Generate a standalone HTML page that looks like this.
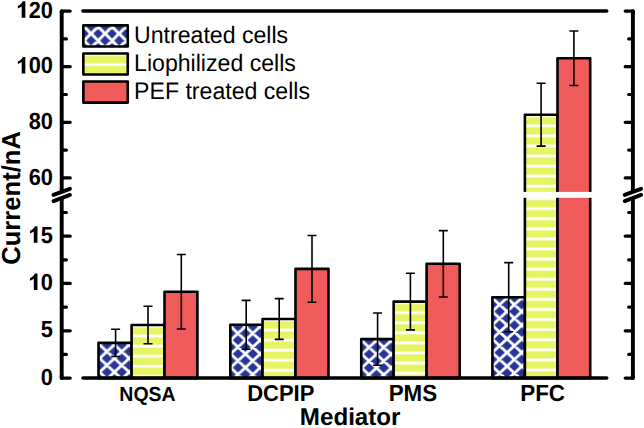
<!DOCTYPE html><html><head><meta charset="utf-8"><style>html,body{margin:0;padding:0;background:#fff;width:644px;height:428px;overflow:hidden}svg{display:block}text{font-family:"Liberation Sans",sans-serif;text-rendering:geometricPrecision}</style></head><body><svg width="644" height="428" viewBox="0 0 644 428"><defs><pattern id="h0" patternUnits="userSpaceOnUse" x="99.60" y="344.70" width="14.8" height="13.7"><rect width="14.8" height="13.7" fill="#283496"/><path d="M-29.600,-13.700L14.800,27.400M0.000,-13.700L-44.400,27.400M-14.800,-13.700L29.600,27.400M14.800,-13.700L-29.600,27.400M0.000,-13.700L44.400,27.400M29.600,-13.700L-14.800,27.400" stroke="#fff" stroke-width="2.8"/></pattern><pattern id="s0" patternUnits="userSpaceOnUse" x="0" y="336.10" width="10" height="10.08"><rect width="10" height="10.08" fill="#E6F462"/><rect y="-1.40" width="10" height="2.8" fill="#fff"/><rect y="8.68" width="10" height="2.8" fill="#fff"/></pattern><pattern id="h1" patternUnits="userSpaceOnUse" x="230.60" y="326.50" width="14.8" height="13.7"><rect width="14.8" height="13.7" fill="#283496"/><path d="M-29.600,-13.700L14.800,27.400M0.000,-13.700L-44.400,27.400M-14.800,-13.700L29.600,27.400M14.800,-13.700L-29.600,27.400M0.000,-13.700L44.400,27.400M29.600,-13.700L-14.800,27.400" stroke="#fff" stroke-width="2.8"/></pattern><pattern id="s1" patternUnits="userSpaceOnUse" x="0" y="330.10" width="10" height="10.08"><rect width="10" height="10.08" fill="#E6F462"/><rect y="-1.40" width="10" height="2.8" fill="#fff"/><rect y="8.68" width="10" height="2.8" fill="#fff"/></pattern><pattern id="h2" patternUnits="userSpaceOnUse" x="361.65" y="340.50" width="14.8" height="13.7"><rect width="14.8" height="13.7" fill="#283496"/><path d="M-29.600,-13.700L14.800,27.400M0.000,-13.700L-44.400,27.400M-14.800,-13.700L29.600,27.400M14.800,-13.700L-29.600,27.400M0.000,-13.700L44.400,27.400M29.600,-13.700L-14.800,27.400" stroke="#fff" stroke-width="2.8"/></pattern><pattern id="s2" patternUnits="userSpaceOnUse" x="0" y="312.70" width="10" height="10.08"><rect width="10" height="10.08" fill="#E6F462"/><rect y="-1.40" width="10" height="2.8" fill="#fff"/><rect y="8.68" width="10" height="2.8" fill="#fff"/></pattern><pattern id="h3" patternUnits="userSpaceOnUse" x="492.20" y="297.80" width="14.8" height="13.7"><rect width="14.8" height="13.7" fill="#283496"/><path d="M-29.600,-13.700L14.800,27.400M0.000,-13.700L-44.400,27.400M-14.800,-13.700L29.600,27.400M14.800,-13.700L-29.600,27.400M0.000,-13.700L44.400,27.400M29.600,-13.700L-14.800,27.400" stroke="#fff" stroke-width="2.8"/></pattern><pattern id="s3" patternUnits="userSpaceOnUse" x="0" y="125.80" width="10" height="10.08"><rect width="10" height="10.08" fill="#E6F462"/><rect y="-1.40" width="10" height="2.8" fill="#fff"/><rect y="8.68" width="10" height="2.8" fill="#fff"/></pattern><pattern id="s3b" patternUnits="userSpaceOnUse" x="0" y="208.70" width="10" height="10.08"><rect width="10" height="10.08" fill="#E6F462"/><rect y="-1.40" width="10" height="2.8" fill="#fff"/><rect y="8.68" width="10" height="2.8" fill="#fff"/></pattern><pattern id="hl" patternUnits="userSpaceOnUse" x="91.10" y="33.60" width="14.0" height="14.0"><rect width="14.0" height="14.0" fill="#283496"/><path d="M-28.000,-14.000L14.000,28.000M0.000,-14.000L-42.000,28.000M-14.000,-14.000L28.000,28.000M14.000,-14.000L-28.000,28.000M0.000,-14.000L42.000,28.000M28.000,-14.000L-14.000,28.000" stroke="#fff" stroke-width="3.0"/></pattern><pattern id="sl" patternUnits="userSpaceOnUse" x="0" y="64.55" width="10" height="10.08"><rect width="10" height="10.08" fill="#E6F462"/><rect y="-1.30" width="10" height="2.6" fill="#fff"/><rect y="8.78" width="10" height="2.6" fill="#fff"/></pattern></defs><rect width="644" height="428" fill="#fff"/><rect x="98.50" y="342.85" width="33.10" height="35.25" fill="url(#h0)" stroke="#000" stroke-width="2.6" stroke-linejoin="round"/><rect x="131.60" y="325.00" width="32.90" height="53.10" fill="url(#s0)" stroke="#000" stroke-width="2.6" stroke-linejoin="round"/><rect x="164.50" y="291.75" width="32.90" height="86.35" fill="#EF5B5B" stroke="#000" stroke-width="2.6" stroke-linejoin="round"/><rect x="230.30" y="324.80" width="32.25" height="53.30" fill="url(#h1)" stroke="#000" stroke-width="2.6" stroke-linejoin="round"/><rect x="262.55" y="319.00" width="32.95" height="59.10" fill="url(#s1)" stroke="#000" stroke-width="2.6" stroke-linejoin="round"/><rect x="295.50" y="268.90" width="33.00" height="109.20" fill="#EF5B5B" stroke="#000" stroke-width="2.6" stroke-linejoin="round"/><rect x="361.25" y="339.10" width="32.40" height="39.00" fill="url(#h2)" stroke="#000" stroke-width="2.6" stroke-linejoin="round"/><rect x="393.65" y="301.60" width="32.95" height="76.50" fill="url(#s2)" stroke="#000" stroke-width="2.6" stroke-linejoin="round"/><rect x="426.60" y="263.80" width="33.10" height="114.30" fill="#EF5B5B" stroke="#000" stroke-width="2.6" stroke-linejoin="round"/><rect x="492.40" y="297.20" width="32.50" height="80.90" fill="url(#h3)" stroke="#000" stroke-width="2.6" stroke-linejoin="round"/><rect x="524.90" y="114.70" width="32.60" height="80.20" fill="url(#s3)" stroke="#000" stroke-width="2.6" stroke-linejoin="round"/><rect x="524.90" y="194.80" width="32.60" height="183.30" fill="url(#s3b)" stroke="#000" stroke-width="2.6" stroke-linejoin="round"/><rect x="557.50" y="58.20" width="32.70" height="136.70" fill="#EF5B5B" stroke="#000" stroke-width="2.6" stroke-linejoin="round"/><rect x="557.50" y="194.80" width="32.70" height="183.30" fill="#EF5B5B" stroke="#000" stroke-width="2.6" stroke-linejoin="round"/><path d="M115.60,329.20V356.50M111.10,329.20H120.10M111.10,356.50H120.10" stroke="#000" stroke-width="1.6" fill="none"/><path d="M148.00,306.20V343.80M143.50,306.20H152.50M143.50,343.80H152.50" stroke="#000" stroke-width="1.6" fill="none"/><path d="M181.30,254.45V329.05M176.80,254.45H185.80M176.80,329.05H185.80" stroke="#000" stroke-width="1.6" fill="none"/><path d="M246.20,300.35V349.25M241.70,300.35H250.70M241.70,349.25H250.70" stroke="#000" stroke-width="1.6" fill="none"/><path d="M279.20,298.65V339.35M274.70,298.65H283.70M274.70,339.35H283.70" stroke="#000" stroke-width="1.6" fill="none"/><path d="M312.00,235.55V302.25M307.50,235.55H316.50M307.50,302.25H316.50" stroke="#000" stroke-width="1.6" fill="none"/><path d="M377.60,312.95V365.25M373.10,312.95H382.10M373.10,365.25H382.10" stroke="#000" stroke-width="1.6" fill="none"/><path d="M410.40,273.30V329.90M405.90,273.30H414.90M405.90,329.90H414.90" stroke="#000" stroke-width="1.6" fill="none"/><path d="M443.30,230.60V297.00M438.80,230.60H447.80M438.80,297.00H447.80" stroke="#000" stroke-width="1.6" fill="none"/><path d="M508.70,262.60V331.80M504.20,262.60H513.20M504.20,331.80H513.20" stroke="#000" stroke-width="1.6" fill="none"/><path d="M541.10,83.25V146.15M536.60,83.25H545.60M536.60,146.15H545.60" stroke="#000" stroke-width="1.6" fill="none"/><path d="M573.90,30.95V85.45M569.40,30.95H578.40M569.40,85.45H578.40" stroke="#000" stroke-width="1.6" fill="none"/><rect x="74" y="191.9" width="545" height="5.90" fill="#fff"/><path d="M61.70,11.10V191.85M61.70,198.00V378.10" stroke="#000" stroke-width="3.9" fill="none" stroke-linecap="butt"/><path d="M61.70,11.10H70.20M61.70,66.70H70.20M61.70,122.30H70.20M61.70,177.90H70.20M61.70,38.90H66.40M61.70,94.50H66.40M61.70,150.10H66.40M61.70,378.10H70.20M61.70,330.78H70.20M61.70,283.47H70.20M61.70,236.15H70.20M61.70,354.44H66.40M61.70,307.12H66.40M61.70,259.81H66.40M61.70,212.49H66.40" stroke="#000" stroke-width="3.2" fill="none" stroke-linecap="round"/><path d="M61.70,13.10V11.10M61.70,376.10V378.10" stroke="#000" stroke-width="3.9" stroke-linecap="round"/><path d="M53.50,194.9L69.90,188.8M53.50,201.1L69.90,194.9" stroke="#000" stroke-width="3.9" stroke-linecap="round" fill="none"/><path d="M632.90,11.10V191.85M632.90,198.00V378.10" stroke="#000" stroke-width="3.9" fill="none" stroke-linecap="butt"/><path d="M632.90,11.10H625.20M632.90,66.70H625.20M632.90,122.30H625.20M632.90,177.90H625.20M632.90,38.90H628.70M632.90,94.50H628.70M632.90,150.10H628.70M632.90,378.10H625.20M632.90,330.78H625.20M632.90,283.47H625.20M632.90,236.15H625.20M632.90,354.44H628.70M632.90,307.12H628.70M632.90,259.81H628.70M632.90,212.49H628.70" stroke="#000" stroke-width="3.2" fill="none" stroke-linecap="round"/><path d="M632.90,13.10V11.10M632.90,376.10V378.10" stroke="#000" stroke-width="3.9" stroke-linecap="round"/><path d="M624.70,194.9L641.10,188.8M624.70,201.1L641.10,194.9" stroke="#000" stroke-width="3.9" stroke-linecap="round" fill="none"/><path d="M82.95,11.1H606.75M82.95,378.1H606.75" stroke="#000" stroke-width="3.5" stroke-linecap="round"/><path d="M21.68,17.80H25.35V1.30H22.75C22.05,3.40 19.65,5.20 17.80,5.90V8.50C19.25,8.00 20.75,7.20 21.68,6.50Z" fill="#000"/><text transform="translate(52.9,17.80) scale(0.96,1.025)" font-size="22.7" font-weight="bold" text-anchor="end">20</text><path d="M21.68,73.40H25.35V56.90H22.75C22.05,59.00 19.65,60.80 17.80,61.50V64.10C19.25,63.60 20.75,62.80 21.68,62.10Z" fill="#000"/><text transform="translate(52.9,73.40) scale(0.96,1.025)" font-size="22.7" font-weight="bold" text-anchor="end">00</text><text transform="translate(52.9,129.00) scale(0.96,1.025)" font-size="22.7" font-weight="bold" text-anchor="end">80</text><text transform="translate(52.9,184.60) scale(0.96,1.025)" font-size="22.7" font-weight="bold" text-anchor="end">60</text><path d="M33.80,242.75H37.47V226.25H34.87C34.17,228.35 31.77,230.15 29.92,230.85V233.45C31.37,232.95 32.87,232.15 33.80,231.45Z" fill="#000"/><text transform="translate(52.9,242.75) scale(0.96,1.025)" font-size="22.7" font-weight="bold" text-anchor="end">5</text><path d="M33.80,290.07H37.47V273.57H34.87C34.17,275.67 31.77,277.47 29.92,278.17V280.77C31.37,280.27 32.87,279.47 33.80,278.77Z" fill="#000"/><text transform="translate(52.9,290.07) scale(0.96,1.025)" font-size="22.7" font-weight="bold" text-anchor="end">0</text><text transform="translate(52.9,337.38) scale(0.96,1.025)" font-size="22.7" font-weight="bold" text-anchor="end">5</text><text transform="translate(52.9,384.70) scale(0.96,1.025)" font-size="22.7" font-weight="bold" text-anchor="end">0</text><text transform="translate(147.50,400.6) scale(1,1.04)" font-size="19.5" font-weight="bold" text-anchor="middle">NQSA</text><text transform="translate(280.80,400.6) scale(1,1.04)" font-size="22.0" font-weight="bold" text-anchor="middle">DCPIP</text><text transform="translate(412.90,401.1) scale(1,1.04)" font-size="22.4" font-weight="bold" text-anchor="middle">PMS</text><text transform="translate(542.60,401.1) scale(1,1.04)" font-size="22.4" font-weight="bold" text-anchor="middle">PFC</text><text transform="translate(350.15,425.3) scale(1,1.005)" font-size="24.15" font-weight="bold" text-anchor="middle">Mediator</text><text transform="translate(20.1,197.95) rotate(-90) scale(1,1.017)" font-size="25.6" font-weight="bold" text-anchor="middle">Current/nA</text><rect x="83.35" y="25.40" width="44.4" height="21.1" fill="url(#hl)" stroke="#000" stroke-width="2.6" stroke-linejoin="round"/><text transform="translate(134.1,43.25) scale(1,1.035)" font-size="23.1">Untreated cells</text><rect x="83.35" y="53.45" width="44.4" height="21.1" fill="url(#sl)" stroke="#000" stroke-width="2.6" stroke-linejoin="round"/><text transform="translate(134.1,71.30) scale(1,1.035)" font-size="23.1">Liophilized cells</text><rect x="83.35" y="81.50" width="44.4" height="21.1" fill="#EF5B5B" stroke="#000" stroke-width="2.6" stroke-linejoin="round"/><text transform="translate(134.1,99.35) scale(1,1.035)" font-size="23.1">PEF treated cells</text></svg></body></html>
